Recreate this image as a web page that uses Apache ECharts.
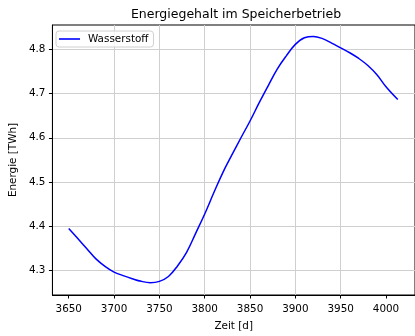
<!DOCTYPE html>
<html>
<head>
<meta charset="utf-8">
<script src="https://cdn.jsdelivr.net/npm/echarts@6/dist/echarts.min.js"></script>
<style>
  html, body { margin: 0; padding: 0; background: #fff; }
  #chart { width: 415px; height: 336px; }
</style>
</head>
<body>
<div id="chart"></div>
<script>
// Stored hydrogen energy over the storage period
const days = [3650, 3660, 3670, 3680, 3690, 3700, 3710, 3720, 3730, 3740,
              3750, 3760, 3770, 3780, 3790, 3800, 3810, 3820, 3830, 3840,
              3850, 3860, 3870, 3880, 3890, 3900, 3910, 3920, 3930, 3940,
              3950, 3960, 3970, 3980, 3990, 4000, 4013];
const hydrogen = [4.394, 4.371, 4.348, 4.325, 4.308, 4.295, 4.287, 4.280, 4.274, 4.271,
                  4.274, 4.285, 4.309, 4.340, 4.383, 4.427, 4.475, 4.521, 4.561, 4.600,
                  4.638, 4.679, 4.718, 4.756, 4.786, 4.812, 4.827, 4.830, 4.825, 4.815,
                  4.804, 4.793, 4.780, 4.764, 4.743, 4.716, 4.687];
const xTicks = [3650, 3700, 3750, 3800, 3850, 3900, 3950, 4000];
const yTicks = [4.3, 4.4, 4.5, 4.6, 4.7, 4.8];

const seriesName = 'Wasserstoff';
const titleText = 'Energiegehalt im Speicherbetrieb';
const xName = 'Zeit [d]';
const yName = 'Energie [TWh]';

const FONT = 'DejaVu Sans';
const chart = echarts.init(document.getElementById('chart'), null, { renderer: 'canvas' });

const axisCommon = {
  axisLine: { show: true, onZero: false, lineStyle: { color: '#000', width: 1 } },
  axisTick: { show: true, inside: false, length: 3.5, lineStyle: { color: '#000', width: 1 } },
  nameTextStyle: { fontFamily: FONT, fontSize: 10.4, color: '#000' }
};
const gridLine = { color: '#cfcfcf', width: 1 };

chart.setOption({
  animation: false,
  backgroundColor: '#fff',
  title: {
    text: titleText,
    left: 236,
    top: 8,
    padding: 0,
    textAlign: 'center',
    textStyle: { fontFamily: FONT, fontSize: 12.5, fontWeight: 'normal', color: '#000' }
  },
  legend: {
    data: [seriesName],
    left: 56,
    top: 31,
    padding: [3, 5, 3, 3],
    icon: 'rect',
    itemWidth: 21,
    itemHeight: 1.6,
    borderColor: '#d0d0d0',
    borderWidth: 1,
    borderRadius: 3,
    backgroundColor: 'rgba(255,255,255,0.8)',
    textStyle: { fontFamily: FONT, fontSize: 10.4, color: '#000', padding: [0, 0, 0, 3] }
  },
  grid: {
    left: 50,
    top: 25,
    width: 372.4,
    height: 277,
    show: true,
    borderColor: '#000',
    borderWidth: 1,
    backgroundColor: 'transparent'
  },
  xAxis: Object.assign({}, axisCommon, {
    type: 'value',
    min: 3632,
    max: 4032,
    splitNumber: 8,
    name: xName,
    nameLocation: 'middle',
    nameGap: 26,
    splitLine: { show: true, showMinLine: false, showMaxLine: false, lineStyle: gridLine },
    axisTick: Object.assign({}, axisCommon.axisTick, { customValues: xTicks }),
    axisLabel: {
      customValues: xTicks,
      margin: 9, fontFamily: FONT, fontSize: 10.4, color: '#000',
      formatter: v => String(v)
    }
  }),
  yAxis: Object.assign({}, axisCommon, {
    type: 'value',
    min: 4.243,
    max: 4.856,
    splitNumber: 6,
    name: yName,
    nameLocation: 'middle',
    nameGap: 31,
    splitLine: { show: true, showMinLine: true, showMaxLine: true, lineStyle: gridLine },
    axisTick: Object.assign({}, axisCommon.axisTick, { customValues: yTicks }),
    axisLabel: {
      customValues: yTicks,
      margin: 7, fontFamily: FONT, fontSize: 10.4, color: '#000',
      formatter: v => v.toFixed(1)
    }
  }),
  series: [{
    name: seriesName,
    type: 'line',
    data: days.map((d, i) => [d, hydrogen[i]]),
    showSymbol: false,
    smooth: 0.4,
    lineStyle: { color: '#0000ff', width: 1.5 },
    itemStyle: { color: '#0000ff' }
  }]
});
</script>
</body>
</html>
